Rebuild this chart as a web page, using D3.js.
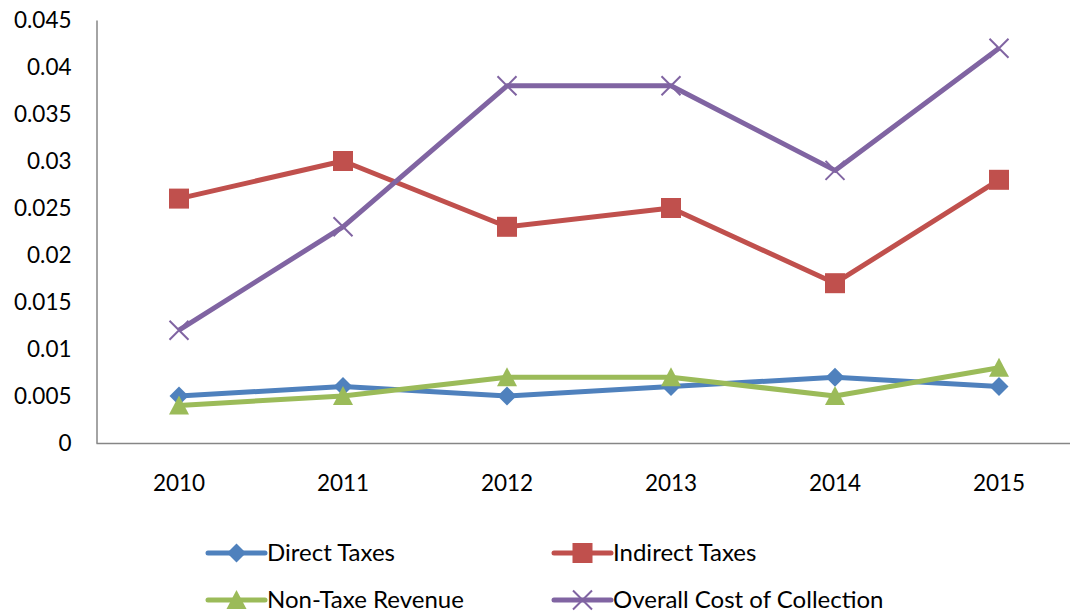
<!DOCTYPE html>
<html>
<head>
<meta charset="utf-8">
<script src="https://cdn.jsdelivr.net/npm/d3@7"></script>
<style>
  html, body { margin: 0; padding: 0; background: #fff; }
  svg { display: block; font-family: Lato, "Open Sans", sans-serif; }
</style>
</head>
<body>
<svg id="chart" width="1070" height="614"></svg>
<script>
// Cost of collection ratios by year
const years = ["2010", "2011", "2012", "2013", "2014", "2015"];
const directTaxes = [0.005, 0.006, 0.005, 0.006, 0.007, 0.006];
const indirectTaxes = [0.026, 0.030, 0.023, 0.025, 0.017, 0.028];
const nonTaxRevenue = [0.004, 0.005, 0.007, 0.007, 0.005, 0.008];
const overallCost = [0.012, 0.023, 0.038, 0.038, 0.029, 0.042];
const yTicks = [0, 0.005, 0.01, 0.015, 0.02, 0.025, 0.03, 0.035, 0.04, 0.045];
const seriesNames = ["Direct Taxes", "Indirect Taxes", "Non-Taxe Revenue", "Overall Cost of Collection"];

const series = [
  { name: seriesNames[0], values: directTaxes, color: "#4F81BD", marker: "diamond" },
  { name: seriesNames[1], values: indirectTaxes, color: "#C0504D", marker: "square" },
  { name: seriesNames[2], values: nonTaxRevenue, color: "#9BBB59", marker: "triangle" },
  { name: seriesNames[3], values: overallCost, color: "#8064A2", marker: "cross" }
];

const svg = d3.select("#chart");
const plotLeft = 96.5, plotTop = 20, plotBottom = 443;

const x = d3.scaleBand().domain(years).range([97, 1081]).paddingInner(0).paddingOuter(0);
const y = d3.scaleLinear().domain([0, 0.045]).range([plotBottom, plotTop]);
const cx = d => x(d) + x.bandwidth() / 2;

// Axes
const axisColor = "#868686";
const yAxis = svg.append("g").attr("transform", `translate(${plotLeft},0)`)
  .call(d3.axisLeft(y).tickValues(yTicks).tickSize(0).tickPadding(25)
    .tickFormat(d => d === 0 ? "0" : String(+d.toFixed(3))));
yAxis.select(".domain").attr("stroke", axisColor).attr("stroke-width", 1.5);
yAxis.selectAll("text").attr("font-size", 22.5).attr("fill", "#000")
  .attr("font-family", "Lato, 'Open Sans', sans-serif");

const xAxis = svg.append("g").attr("transform", `translate(0,${plotBottom + 0.5})`)
  .call(d3.axisBottom(x).tickSize(0).tickPadding(32));
xAxis.select(".domain").attr("stroke", axisColor).attr("stroke-width", 1.5)
  .attr("d", `M${plotLeft},0H1081`);
xAxis.selectAll("text").attr("font-size", 22.5).attr("fill", "#000")
  .attr("font-family", "Lato, 'Open Sans', sans-serif");

// Marker drawing
function drawMarker(g, type, color) {
  if (type === "diamond") {
    g.append("path").attr("d", "M0,-9.5L9.5,0L0,9.5L-9.5,0Z").attr("fill", color);
  } else if (type === "square") {
    g.append("rect").attr("x", -10).attr("y", -10).attr("width", 20).attr("height", 20).attr("fill", color);
  } else if (type === "triangle") {
    g.append("path").attr("d", "M0,-10L10,9L-10,9Z").attr("fill", color);
  } else if (type === "cross") {
    g.append("path").attr("d", "M-9.5,-9.5L9.5,9.5M-9.5,9.5L9.5,-9.5")
      .attr("stroke", color).attr("stroke-width", 2).attr("fill", "none");
  }
}

const line = d3.line().x((d, i) => cx(years[i])).y(d => y(d));

series.forEach(s => {
  const g = svg.append("g");
  g.append("path").datum(s.values).attr("d", line)
    .attr("fill", "none").attr("stroke", s.color).attr("stroke-width", 5)
    .attr("stroke-linejoin", "round");
  s.values.forEach((v, i) => {
    const m = g.append("g").attr("transform", `translate(${cx(years[i])},${y(v)})`);
    drawMarker(m, s.marker, s.color);
  });
});

// Legend
const legendPos = [[208, 553], [554, 553], [208, 600], [554, 600]];
series.forEach((s, i) => {
  const [lx, ly] = legendPos[i];
  const g = svg.append("g").attr("transform", `translate(${lx},${ly})`);
  g.append("line").attr("x1", 0).attr("x2", 57).attr("y1", 0).attr("y2", 0)
    .attr("stroke", s.color).attr("stroke-width", 5).attr("stroke-linecap", "round");
  drawMarker(g.append("g").attr("transform", "translate(28.5,0)"), s.marker, s.color);
  g.append("text").attr("x", 59).attr("y", 0).attr("dy", "0.35em")
    .attr("font-size", 24).attr("fill", "#000").text(s.name);
});
</script>
</body>
</html>
